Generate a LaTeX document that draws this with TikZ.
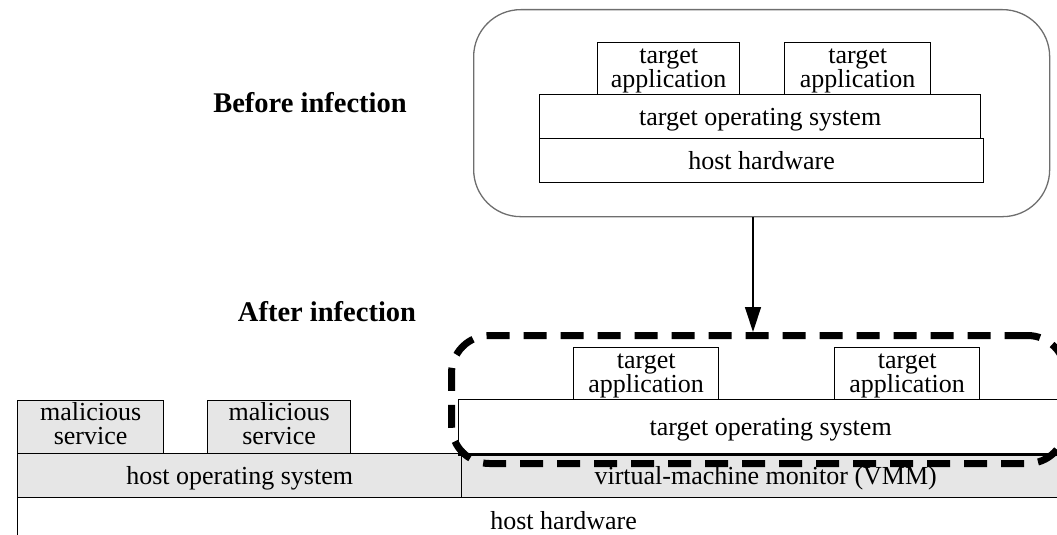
\documentclass[tikz,border=0pt]{standalone}
\usepackage{fontspec}
\setmainfont{Liberation Serif}
\usetikzlibrary{arrows.meta}
\definecolor{bandgray}{RGB}{230,230,230}
\definecolor{framegray}{RGB}{110,110,110}
\newcommand{\layerfont}{\fontsize{26}{24}\selectfont}
\newcommand{\headfont}{\fontsize{28.5}{30}\selectfont\bfseries}
\tikzset{
  layer/.style={draw, line width=1.3pt, inner sep=0pt, anchor=north west,
    align=center, font=\layerfont, text depth=0pt},
  plainlayer/.style={layer, fill=white},
  greylayer/.style={layer, fill=bandgray},
  servicebox/.style={greylayer, text depth=7pt},
  heading/.style={font=\headfont, inner sep=0pt},
  arrowline/.style={line width=1.3pt, -{Triangle[length=25pt,width=16pt]}},
  vmframe/.style={draw, line width=7pt, dash pattern=on 23pt off 14pt,
    rounded corners=38pt, inner sep=0pt, anchor=north west},
}
\begin{document}
\begin{tikzpicture}[x=1pt, y=-1pt]
\useasboundingbox (0,0) rectangle (1057,535);
\clip (0,0) rectangle (1057,535);

% ---- system before infection ----
\node[draw=framegray, line width=1.3pt, rounded corners=47pt, inner sep=0pt,
  anchor=north west, minimum width=576pt, minimum height=207pt] (before) at (473,9) {};
\node[plainlayer, minimum width=142pt, minimum height=52pt] (bapp1) at (597,42) {target\\application};
\node[plainlayer, minimum width=146pt, minimum height=52pt] (bapp2) at (784,42) {target\\application};
\node[plainlayer, minimum width=441pt, minimum height=44pt] (bos) at (539,94) {target operating system};
\node[plainlayer, minimum width=444pt, minimum height=44pt] (bhw) at (539,138) {host hardware};

\node[heading] (lbefore) at (310,103) {Before infection};
\node[heading] (lafter) at (327,312) {After infection};

% ---- system after infection ----
\node[layer, minimum width=1092pt, minimum height=46pt] (hhw) at (17,497) {host hardware};
\node[greylayer, minimum width=444pt, minimum height=44pt] (hos) at (17,453) {host operating system};
\node[greylayer, minimum width=608pt, minimum height=44pt] (vmm) at (461,453) {virtual-machine monitor (VMM)};
\node[servicebox, minimum width=146pt, minimum height=53pt] (mal1) at (17,400) {malicious\\service};
\node[servicebox, minimum width=143pt, minimum height=53pt] (mal2) at (207,400) {malicious\\service};
\node[plainlayer, minimum width=624pt, minimum height=54pt] (aos) at (458,399) {target operating system};
\node[plainlayer, minimum width=145pt, minimum height=52pt] (aapp1) at (573,347) {target\\application};
\node[plainlayer, minimum width=145pt, minimum height=52pt] (aapp2) at (834,347) {target\\application};
\draw[line width=3pt] (aos.south west) -- (aos.south east);

% the guest boundary drawn by the VMM
\node[vmframe, minimum width=614pt, minimum height=128pt] (vm) at (448,332) {};

% infection step
\coordinate (ax) at (753,0);
\draw[arrowline] (before.south -| ax) -- (vm.north -| ax);
\end{tikzpicture}
\end{document}
